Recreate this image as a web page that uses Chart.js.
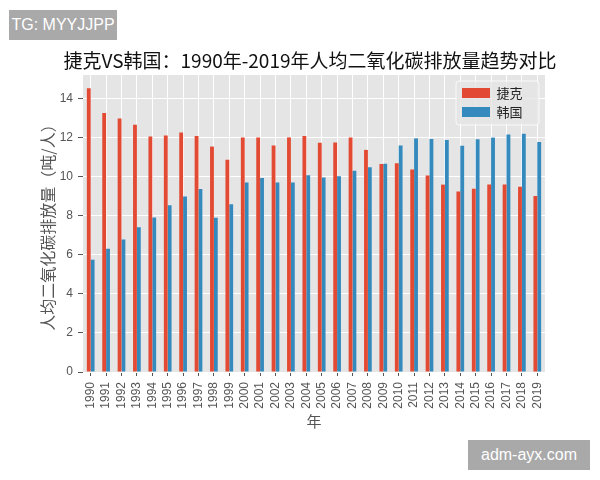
<!DOCTYPE html>
<html><head><meta charset="utf-8">
<script src="https://cdn.jsdelivr.net/npm/chart.js@4.4.0/dist/chart.umd.min.js"></script>
<style>
html,body{margin:0;padding:0;background:#fff;}
#wrap{position:relative;width:600px;height:480px;overflow:hidden;}
canvas{position:absolute;left:0;top:0;}
.wm{position:absolute;background:#A9A9A9;color:#fff;font-family:"Liberation Sans",Arial,sans-serif;font-size:16px;height:30px;line-height:30px;text-align:center;}
</style></head><body>
<div id="wrap"><canvas id="c" width="600" height="480"></canvas>
<div class="wm" style="left:9px;top:10px;width:108px;">TG: MYYJJPP</div>
<div class="wm" style="left:468px;top:440px;width:122px;">adm-ayx.com</div>
</div>
<script>
const years = ['1990','1991','1992','1993','1994','1995','1996','1997','1998','1999','2000','2001','2002','2003','2004','2005','2006','2007','2008','2009','2010','2011','2012','2013','2014','2015','2016','2017','2018','2019'];
const czech = [14.55,13.28,13.0,12.68,12.08,12.13,12.28,12.1,11.56,10.88,12.02,12.02,11.62,12.03,12.1,11.75,11.77,12.02,11.39,10.66,10.7,10.38,10.08,9.61,9.26,9.4,9.62,9.62,9.5,9.02];
const korea = [5.76,6.32,6.8,7.42,7.92,8.55,9.0,9.38,7.91,8.6,9.72,9.95,9.72,9.72,10.09,9.98,10.04,10.32,10.5,10.68,11.62,11.98,11.95,11.9,11.6,11.93,12.02,12.18,12.22,11.8];
const seriesNames = ['捷克','韩国'];
const yTicks = [0,2,4,6,8,10,12,14];
const yMax = 15.23;
const titleText = '捷克VS韩国：1990年-2019年人均二氧化碳排放量趋势对比';
const xTitle = '年';
const yTitle = '人均二氧化碳排放量（吨/人）';

const CJK = '"Noto Sans CJK SC", "Noto Sans", sans-serif';
const LAT = '"Liberation Sans", Arial, sans-serif';

const stylePlugin = {
  id: 'stylePlugin',
  beforeDraw(chart) {
    const {ctx, chartArea: {left, top, right, bottom}} = chart;
    ctx.save();
    ctx.fillStyle = '#E5E5E5';
    ctx.fillRect(left, top, right - left, bottom - top);
    ctx.restore();
  },
  afterInit(chart) {
    const lg = chart.legend;
    if (!lg) return;
    lg._layers = () => [{z: 1, draw(area) {
      const ca = chart.chartArea, ctx = chart.ctx;
      ctx.save();
      ctx.beginPath();
      ctx.roundRect(ca.right - 89, ca.top + 6, 83, 44, 3);
      ctx.fillStyle = 'rgba(229,229,229,0.8)';
      ctx.fill();
      ctx.strokeStyle = 'rgba(255,255,255,0.8)';
      ctx.lineWidth = 1;
      ctx.stroke();
      ctx.restore();
      lg.draw(area);
    }}];
  },
  afterLayout(chart) {
    const lg = chart.legend, ca = chart.chartArea;
    if (!lg) return;
    lg.left = ca.right - 89; lg.top = ca.top + 5.5;
    lg.width = 90; lg.height = 60;
    lg.right = lg.left + 90; lg.bottom = lg.top + 60;
  }
};

new Chart(document.getElementById('c'), {
  type: 'bar',
  data: {
    labels: years,
    datasets: [
      {label: seriesNames[0], data: czech, backgroundColor: '#E24A33', borderWidth: 0, categoryPercentage: 0.5, barPercentage: 1.0},
      {label: seriesNames[1], data: korea, backgroundColor: '#348ABD', borderWidth: 0, categoryPercentage: 0.5, barPercentage: 1.0}
    ]
  },
  plugins: [stylePlugin],
  options: {
    responsive: false,
    animation: false,
    layout: {padding: {left: 20, right: 0, top: 0, bottom: 0}},
    plugins: {
      tooltip: {enabled: false},
      title: {display: true, text: titleText, fullSize: true, color: '#111',
        font: {family: CJK, size: 19, weight: 'normal'}, padding: {top: 49.6, bottom: 2.6}},
      legend: {position: 'chartArea', align: 'start',
        labels: {boxWidth: 28, boxHeight: 10, padding: 6, color: '#222', font: {family: CJK, size: 13}}}
    },
    scales: {
      x: {
        offset: true,
        grid: {color: '#FFFFFF', lineWidth: 1, offset: false, tickColor: '#555', tickLength: 4},
        border: {display: false},
        ticks: {color: '#555', font: {family: LAT, size: 12}, minRotation: 90, maxRotation: 90, autoSkip: false, padding: 6},
        title: {display: true, text: xTitle, color: '#555', font: {family: CJK, size: 15}, padding: {top: 0, bottom: 50}},
        afterFit(s) { s.height = 108; }
      },
      y: {
        min: 0, max: yMax,
        afterBuildTicks(s) { s.ticks = yTicks.map(v => ({value: v})); },
        grid: {color: '#FFFFFF', lineWidth: 1, tickColor: '#555', tickLength: 5},
        border: {display: false},
        ticks: {color: '#555', font: {family: LAT, size: 12}, padding: 5},
        title: {display: true, text: yTitle, color: '#555', font: {family: CJK, size: 16}, padding: {top: 18, bottom: 0}},
        afterFit(s) { s.width = 63; }
      },
      yRight: {
        type: 'linear', position: 'right', display: true,
        grid: {display: false, drawOnChartArea: false, drawTicks: false},
        border: {display: false},
        ticks: {display: false},
        afterFit(s) { s.width = 55; }
      }
    }
  }
});
</script>
</body></html>
